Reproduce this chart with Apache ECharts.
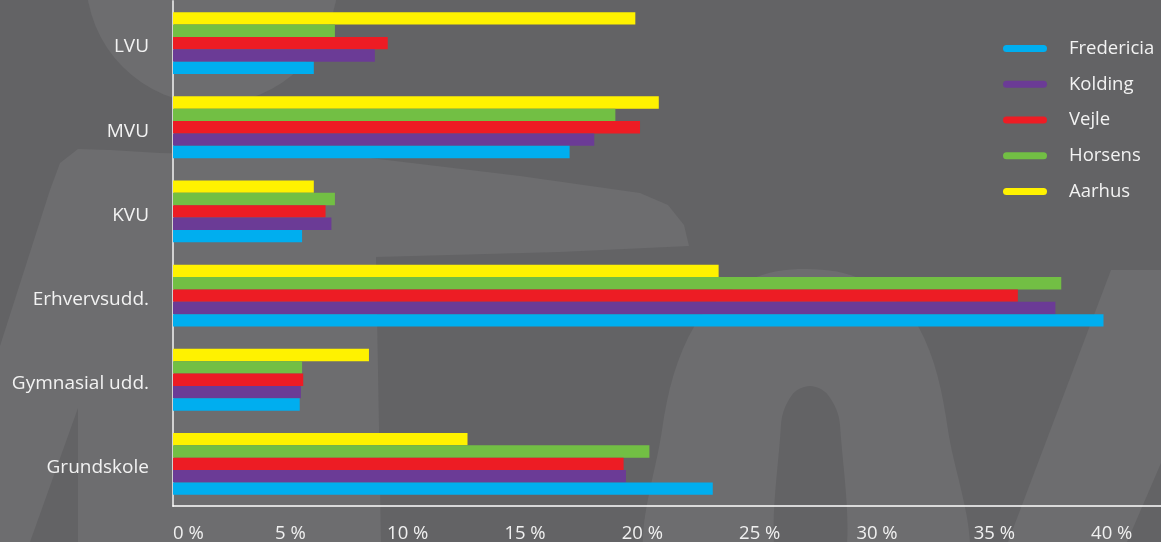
<!DOCTYPE html>
<html>
<head>
<meta charset="utf-8">
<script src="https://cdn.jsdelivr.net/npm/echarts@6/dist/echarts.min.js"></script>
<style>
    * { margin: 0; padding: 0; }
    body { background: #636365; }
    #main { width: 1161px; height: 542px; }
</style>
</head>
<body>
<div id="main"></div>
<script>
    // data (percent)
    var categories = ['Grundskole', 'Gymnasial udd.', 'Erhvervsudd.', 'KVU', 'MVU', 'LVU'];
    var cities = ['Fredericia', 'Kolding', 'Vejle', 'Horsens', 'Aarhus'];
    var fredericia = [23.0, 5.4, 39.65, 5.5, 16.9, 6.0];
    var kolding = [19.3, 5.45, 37.6, 6.75, 17.95, 8.6];
    var vejle = [19.2, 5.55, 36.0, 6.5, 19.9, 9.15];
    var horsens = [20.3, 5.5, 37.85, 6.9, 18.85, 6.9];
    var aarhus = [12.55, 8.35, 23.25, 6.0, 20.7, 19.7];
    var xTicks = [0, 5, 10, 15, 20, 25, 30, 35, 40];

    var colors = {
        Fredericia: '#00aeef',
        Kolding: '#6b3b96',
        Vejle: '#ed1c24',
        Horsens: '#72bf44',
        Aarhus: '#fff200'
    };
    var values = {
        Fredericia: fredericia,
        Kolding: kolding,
        Vejle: vejle,
        Horsens: horsens,
        Aarhus: aarhus
    };

    var font = '"Open Sans", "Noto Sans", sans-serif';
    var light = '#6d6d6f';
    var dark = '#636365';

    var chart = echarts.init(document.getElementById('main'));

    // top series sits on top of each group, so list Aarhus first
    var series = cities.slice().reverse().map(function (name) {
        return {
            name: name,
            type: 'bar',
            data: values[name],
            barGap: '0%',
            barCategoryGap: '26.5%',
            itemStyle: { color: colors[name] },
            emphasis: { disabled: true }
        };
    });

    var option = {
        backgroundColor: dark,
        animation: false,
        textStyle: { fontFamily: font },
        // faint watermark shapes behind the plot
        graphic: [
            { type: 'circle', z: -10, silent: true, shape: { cx: 212, cy: -22, r: 126 }, style: { fill: light } },
            {
                type: 'polygon', z: -10, silent: true,
                shape: { points: [[0, 346], [50, 190], [60, 163], [78, 149], [110, 150], [160, 153], [370, 158],
                    [520, 176], [640, 193], [668, 205], [684, 225], [689, 246], [560, 252], [376, 257],
                    [381, 542], [78, 542], [78, 408], [30, 542], [0, 542]] },
                style: { fill: light }
            },
            {
                type: 'polygon', z: -10, silent: true,
                shape: { smooth: 0.35, points: [[659, 580], [662, 430], [695, 325], [750, 280], [807, 269],
                    [865, 281], [918, 326], [948, 430], [955, 580]] },
                style: { fill: light }
            },
            {
                type: 'polygon', z: -9, silent: true,
                shape: { smooth: 0.35, points: [[781, 580], [781, 425], [792, 395], [810, 386], [828, 395],
                    [840, 425], [840, 580]] },
                style: { fill: dark }
            },
            {
                type: 'polygon', z: -10, silent: true,
                shape: { points: [[1008, 542], [1111, 270], [1244, 270], [1127, 542]] },
                style: { fill: light }
            }
        ],
        legend: {
            data: cities,
            orient: 'vertical',
            left: 1003,
            top: 38.5,
            padding: 0,
            itemWidth: 44,
            itemHeight: 7,
            itemGap: 15.75,
            icon: 'path://M3.5,0L40.5,0A3.5,3.5,0,0,1,40.5,7L3.5,7A3.5,3.5,0,0,1,3.5,0Z',
            textStyle: {
                color: '#f2f2f2',
                fontSize: 18.5,
                fontFamily: font,
                lineHeight: 20,
                padding: [0, 0, 0, 17]
            },
            selectedMode: false
        },
        grid: {
            left: 173,
            right: 0,
            top: 1,
            bottom: 36,
            containLabel: false,
            outerBoundsMode: 'none'
        },
        xAxis: {
            type: 'value',
            min: 0,
            max: 42.1,
            interval: 5,
            splitLine: { show: false },
            axisTick: { show: false },
            axisLine: { show: true, lineStyle: { color: '#ffffff', width: 1.5 } },
            axisLabel: {
                color: '#f0f0f0',
                fontSize: 18.5,
                fontFamily: font,
                margin: 18,
                showMaxLabel: false,
                alignMinLabel: 'left',
                formatter: function (v) {
                    return xTicks.indexOf(v) >= 0 ? v + ' %' : '';
                }
            }
        },
        yAxis: {
            type: 'category',
            data: categories,
            axisTick: { show: false },
            axisLine: { show: true, lineStyle: { color: '#d2d2d2', width: 2 } },
            axisLabel: {
                margin: 24,
                formatter: function (v) {
                    return '{c|' + v + '}';
                },
                rich: {
                    c: {
                        color: '#f2f2f2',
                        fontSize: 19,
                        fontFamily: font,
                        padding: [8, 0, 0, 0]
                    }
                }
            }
        },
        series: series
    };

    chart.setOption(option);
</script>
</body>
</html>
